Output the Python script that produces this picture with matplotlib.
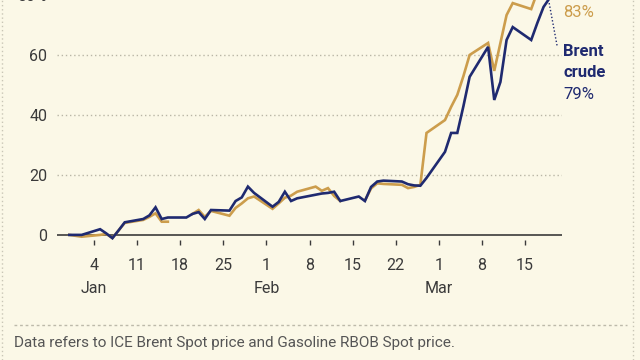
import numpy as np
import pandas as pd
import matplotlib
matplotlib.use("Agg")
import matplotlib.pyplot as plt
import matplotlib.dates as mdates
import matplotlib.transforms as mtransforms

plt.rcParams['font.family'] = ['Roboto', 'DejaVu Sans']

# trading days, % change since start of year
dates = pd.to_datetime([
    "2025-12-31", "2026-01-02",
    "2026-01-05", "2026-01-06", "2026-01-07", "2026-01-08", "2026-01-09",
    "2026-01-12", "2026-01-13", "2026-01-14", "2026-01-15", "2026-01-16",
    "2026-01-19", "2026-01-20", "2026-01-21", "2026-01-22", "2026-01-23",
    "2026-01-26", "2026-01-27", "2026-01-28", "2026-01-29", "2026-01-30",
    "2026-02-02", "2026-02-03", "2026-02-04", "2026-02-05", "2026-02-06",
    "2026-02-09", "2026-02-10", "2026-02-11", "2026-02-12", "2026-02-13",
    "2026-02-16", "2026-02-17", "2026-02-18", "2026-02-19", "2026-02-20",
    "2026-02-23", "2026-02-24", "2026-02-25", "2026-02-26", "2026-02-27",
    "2026-03-02", "2026-03-03", "2026-03-04", "2026-03-05", "2026-03-06",
    "2026-03-09", "2026-03-10", "2026-03-11", "2026-03-12", "2026-03-13",
    "2026-03-16", "2026-03-17", "2026-03-18", "2026-03-19",
])

brent = [
    0, 0,
    1.9, 0.5, -1.1, 1.5, 4.2,
    5.3, 6.5, 9.2, 5.3, 5.8,
    5.8, 7.0, 7.6, 5.3, 8.3,
    8.1, 11.3, 12.5, 16.1, 14.0,
    9.4, 11.0, 14.4, 11.3, 12.2,
    13.4, 13.8, 14.0, 14.4, 11.3,
    12.8, 11.3, 16.0, 17.8, 18.1,
    17.8, 16.9, 16.5, 16.4, 19.0,
    27.7, 34.0, 34.0, 43.0, 52.7,
    62.7, 45.0, 51.0, 65.0, 69.3,
    65.0, 70.7, 76.0, 79.0,
]

gasoline = [
    0, -0.6,
    0, 0.3, -1.0, 1.5, 4.0,
    5.0, 6.0, 7.2, 4.4, 4.4,
    np.nan, 7.0, 8.3, 6.0, 8.0,
    6.4, 9.0, 10.5, 12.2, 12.8,
    8.7, 10.5, 12.4, 13.1, 14.4,
    16.1, 14.7, 15.6, 13.0, 11.3,
    np.nan, 11.5, 15.5, 17.2, 17.0,
    16.7, 15.6, 16.0, 16.7, 34.0,
    38.3, 42.7, 46.7, 53.0, 60.0,
    64.0, 54.7, 64.0, 73.3, 77.3,
    75.3, 81.0, 82.0, 83.0,
]

tick_dates = pd.to_datetime(["2026-01-04", "2026-01-11", "2026-01-18", "2026-01-25",
                             "2026-02-01", "2026-02-08", "2026-02-15", "2026-02-22",
                             "2026-03-01", "2026-03-08", "2026-03-15"])
tick_labels = ["4\nJan", "11", "18", "25", "1\nFeb", "8", "15", "22", "1\nMar", "8", "15"]

bg = "#FBF8E7"
navy = "#1F2A70"
gold = "#CC9D4C"
txt = "#3a3a3a"

fig = plt.figure(figsize=(6.4, 3.6), dpi=100, facecolor=bg)
# axes extends above the top edge, as in the cropped original
ax = fig.add_axes([57/640, 120/360, 505/640, 275/360])
ax.set_facecolor(bg)

for v in [20, 40, 60, 80]:
    ax.axhline(v, color="#B9B6A6", lw=1, ls=(0, (1, 2)), zorder=1)
ax.axhline(0, color="#3b3b3b", lw=1.2, zorder=2)

ax.plot(dates, gasoline, color=gold, lw=1.9, zorder=3, solid_joinstyle="miter")
ax.plot(dates, brent, color=navy, lw=1.9, zorder=4, solid_joinstyle="miter")

ax.set_xlim(pd.Timestamp("2025-12-29"), pd.Timestamp("2026-03-21"))
ax.set_ylim(-1.7, 90)

ax.set_xticks(tick_dates)
ax.set_xticklabels(tick_labels)
for t in ax.get_xticklabels():
    t.set_linespacing(1.7)
    t.set_verticalalignment("top")
ax.tick_params(axis="x", length=3.6, width=1, color="#3b3b3b", pad=9,
               labelsize=11.5, labelcolor=txt)

ax.set_yticks([0, 20, 40, 60, 80])
ax.set_yticklabels(["0", "20", "40", "60", "80%"])
ax.tick_params(axis="y", length=0, pad=7, labelsize=11.5, labelcolor=txt)

for s in ax.spines.values():
    s.set_visible(False)

# end labels
tr = mtransforms.blended_transform_factory(ax.transAxes, ax.transData)
ax.text(1.002, 74.3, "83%", transform=tr, color=gold, fontsize=12,
        va="center", ha="left", clip_on=False)
ax.text(1.002, 61, "Brent", transform=tr, color=navy, fontsize=12,
        fontweight="bold", va="center", ha="left", clip_on=False)
ax.text(1.002, 54, "crude", transform=tr, color=navy, fontsize=12,
        fontweight="bold", va="center", ha="left", clip_on=False)
ax.text(1.002, 46.7, "79%", transform=tr, color=navy, fontsize=12,
        va="center", ha="left", clip_on=False)
ax.plot([pd.Timestamp("2026-03-18 22:00"), pd.Timestamp("2026-03-20 05:00")],
        [77.3, 63], color=navy, lw=1, ls=(0, (1, 1.5)), clip_on=False, zorder=5)

# footnote and frame
fig.add_artist(plt.Line2D([14/640, 627/640], [35/360, 35/360], color="#BDBAAA",
                          lw=1, ls=(0, (2, 2))))
fig.text(14/640, 17/360, "Data refers to ICE Brent Spot price and Gasoline RBOB Spot price.",
         fontsize=11, color="#555555", va="center", ha="left")
for xf in [2/640, 633/640]:
    fig.add_artist(plt.Line2D([xf, xf], [0, 1], color="#C9C6B6", lw=1, ls=(0, (1, 2))))

fig.savefig("out.png", dpi=100, facecolor=bg)
